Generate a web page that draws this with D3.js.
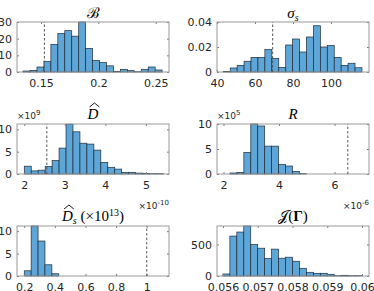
<!DOCTYPE html>
<html>
<head>
<meta charset="utf-8">
<script src="https://cdn.jsdelivr.net/npm/d3@7"></script>
<style>
  body { margin: 0; background: #fff; }
  svg { display: block; }
  .tick text { font-family: "DejaVu Sans", sans-serif; font-size: 11px; fill: #262626; }
</style>
</head>
<body>
<svg id="chart" width="374" height="291"></svg>
<script>
// bar heights, one array per panel
const bCounts = [0.6, 1, 3, 6.4, 16.6, 23.1, 24.8, 21.5, 30, 14.2, 6.9, 5.7, 3.7, 0.4, 1.6, 0.8, 0.2, 1.6, 3, 1.2];
const bBins = [0.1343, 0.006065];          // first edge, bin width
const bLim = [0.129, 0.2616];
const bTicks = [0.15, 0.2, 0.25];
const bTickLabels = ["0.15", "0.2", "0.25"];
const bRef = 0.1529;

const sCounts = [0.0005, 0.0032, 0.0053, 0.0086, 0.0117, 0.0117, 0.0179, 0.0109, 0.0036, 0.0216,
                 0.0264, 0.016, 0.028, 0.037, 0.02, 0.0212, 0.0117, 0.0053, 0.007, 0.0034];
const sBins = [43.3, 3.65];
const sLim = [40, 120];
const sTicks = [40, 60, 80, 100];
const sYTicks = [0, 0.02, 0.04];
const sYLabels = ["0", "0.02", "0.04"];
const sRef = 69.3;

const dCounts = [1.75, 0.7, 0.86, 1.68, 3.0, 5.8, 11.15, 9.45, 6.9, 6.7, 5.35, 2.6, 1.5, 1.1, 0.37, 0.37, 0.2, 0.15, 0.07, 0.07];
const dBins = [2.0, 0.1716];
const dLim = [1.82, 5.57];
const dTicks = [2, 3, 4, 5];
const dRef = 2.556;

const rCounts = [0.2, 0.33, 4.3, 10, 9.6, 5.57, 5.57, 1.9, 1.6, 0.5, 0.07];
const rBins = [2.234, 0.25];
const rLim = [1.766, 7.243];
const rTicks = [2, 4, 6];
const rRef = 6.48;

const dsCounts = [1.16, 11.15, 7.8, 2.5, 0.5];
const dsBins = [0.2, 0.0451];
const dsLim = [0.1526, 1.1455];
const dsTicks = [0.2, 0.4, 0.6, 0.8, 1];
const dsTickLabels = ["0.2", "0.4", "0.6", "0.8", "1"];
const dsRef = 1.0;

const jCounts = [32, 633, 697, 793, 500, 441, 277, 426, 282, 298, 234, 122, 59, 43, 43, 27, 5, 11, 5, 5];
const jBins = [0.056, 0.0002];
const jLim = [0.05583, 0.0602];
const jTicks = [0.056, 0.057, 0.058, 0.059, 0.06];
const jTickLabels = ["0.056", "0.057", "0.058", "0.059", "0.06"];

const yTicks10 = [0, 5, 10];

const svg = d3.select("#chart");
const cols = [[17, 169], [217, 369]];
const rows = [[22, 72], [124, 174], [226, 276]];
const titleFont = '"Liberation Serif", "DejaVu Serif", serif';

const panels = [
  { col: 0, row: 0, counts: bCounts, bins: bBins, xlim: bLim, ymax: 30,
    xt: bTicks, xl: bTickLabels, yt: [0, 10, 20, 30], yl: ["0", "10", "20", "30"], ref: bRef },
  { col: 1, row: 0, counts: sCounts, bins: sBins, xlim: sLim, ymax: 0.04,
    xt: sTicks, xl: sTicks.map(String), yt: sYTicks, yl: sYLabels, ref: sRef },
  { col: 0, row: 1, counts: dCounts, bins: dBins, xlim: dLim, ymax: 11.2,
    xt: dTicks, xl: dTicks.map(String), yt: yTicks10, yl: yTicks10.map(String), ref: dRef,
    yexp: "9", xexp: "-10" },
  { col: 1, row: 1, counts: rCounts, bins: rBins, xlim: rLim, ymax: 10,
    xt: rTicks, xl: rTicks.map(String), yt: yTicks10, yl: yTicks10.map(String), ref: rRef,
    yexp: "5", xexp: "-6" },
  { col: 0, row: 2, counts: dsCounts, bins: dsBins, xlim: dsLim, ymax: 11.15,
    xt: dsTicks, xl: dsTickLabels, yt: yTicks10, yl: yTicks10.map(String), ref: dsRef },
  { col: 1, row: 2, counts: jCounts, bins: jBins, xlim: jLim, ymax: 793,
    xt: jTicks, xl: jTickLabels, yt: [0, 500], yl: ["0", "500"] }
];

function exponent(g, x, y, anchor, power) {
  const t = g.append("text").attr("x", x).attr("y", y).attr("text-anchor", anchor)
    .style("font-family", '"DejaVu Sans", sans-serif').style("font-size", "9px").attr("fill", "#262626");
  t.append("tspan").text("×10");
  t.append("tspan").attr("dy", -4).style("font-size", "7px").text(power);
}

panels.forEach(p => {
  const [l, r] = cols[p.col], [t, b] = rows[p.row];
  const x = d3.scaleLinear().domain(p.xlim).range([l, r]);
  const y = d3.scaleLinear().domain([0, p.ymax]).range([b, t]);
  const g = svg.append("g");
  p.x = x; p.g = g;

  g.selectAll("rect.bar").data(p.counts).join("rect")
    .attr("class", "bar")
    .attr("x", (d, i) => x(p.bins[0] + i * p.bins[1]))
    .attr("width", x(p.bins[0] + p.bins[1]) - x(p.bins[0]))
    .attr("y", d => y(d))
    .attr("height", d => b - y(d))
    .attr("fill", "#5ea6d8")
    .attr("stroke", "#1e2c3a")
    .attr("stroke-width", 0.7);

  // inward ticks on all four sides, labels only bottom/left
  const ax = [
    d3.axisBottom(x).tickValues(p.xt).tickFormat((d, i) => p.xl[i]).tickSize(-2).tickPadding(7),
    d3.axisTop(x).tickValues(p.xt).tickFormat("").tickSize(-2),
    d3.axisLeft(y).tickValues(p.yt).tickFormat((d, i) => p.yl[i]).tickSize(-2).tickPadding(5),
    d3.axisRight(y).tickValues(p.yt).tickFormat("").tickSize(-2)
  ];
  const pos = [[0, b], [0, t], [l, 0], [r, 0]];
  ax.forEach((a, k) => {
    const ag = g.append("g").attr("transform", `translate(${pos[k][0]},${pos[k][1]})`).call(a);
    ag.select(".domain").remove();
    ag.selectAll(".tick line").attr("stroke", "#7a7a7a");
    ag.selectAll(".tick text").attr("fill", "#262626");
  });

  g.append("rect").attr("x", l).attr("y", t).attr("width", r - l).attr("height", b - t)
    .attr("fill", "none").attr("stroke", "#9a9a9a").attr("stroke-width", 1);

  if (p.ref !== undefined) {
    g.append("line").attr("x1", x(p.ref)).attr("x2", x(p.ref)).attr("y1", b).attr("y2", t)
      .attr("stroke", "#555").attr("stroke-width", 1).attr("stroke-dasharray", "2.5,2");
  }
  if (p.yexp) exponent(g, l, t - 5, "start", p.yexp);
  if (p.xexp) exponent(g, r, b + 35, "end", p.xexp);
});

function titleText(p, baseline) {
  const [l, r] = cols[p.col];
  return p.g.append("text").attr("x", (l + r) / 2).attr("y", baseline)
    .attr("text-anchor", "middle")
    .style("font-family", titleFont).style("font-size", "15px").attr("fill", "#000");
}
function hat(text) {
  const box = text.node().getExtentOfChar(0);
  const y0 = box.y + 1, x0 = box.x + 2, x1 = box.x + box.width + 1;
  text.node().parentNode && d3.select(text.node().parentNode).append("path")
    .attr("d", `M${x0},${y0} L${(x0 + x1) / 2},${y0 - 4} L${x1},${y0}`)
    .attr("fill", "none").attr("stroke", "#000").attr("stroke-width", 0.9);
}

// titles
let tt = titleText(panels[0], 18);
tt.append("tspan").text("ℬ");

tt = titleText(panels[1], 18);
tt.append("tspan").style("font-style", "italic").text("σ");
tt.append("tspan").style("font-style", "italic").style("font-size", "10px").attr("dy", 3).text("s");

tt = titleText(panels[2], 119);
tt.append("tspan").style("font-style", "italic").text("D");
hat(tt);

tt = titleText(panels[3], 119);
tt.append("tspan").style("font-style", "italic").text("R");

tt = titleText(panels[4], 221);
tt.append("tspan").style("font-style", "italic").text("D");
tt.append("tspan").style("font-style", "italic").style("font-size", "10px").attr("dy", 3).text("s");
tt.append("tspan").attr("dy", -3).text(" (×10");
tt.append("tspan").style("font-size", "10px").attr("dy", -5).text("13");
tt.append("tspan").attr("dy", 5).text(")");
hat(tt);

tt = titleText(panels[5], 221);
tt.append("tspan").text("𝒥");
tt.append("tspan").text("(");
tt.append("tspan").style("font-weight", "bold").text("Γ");
tt.append("tspan").text(")");
</script>
</body>
</html>
